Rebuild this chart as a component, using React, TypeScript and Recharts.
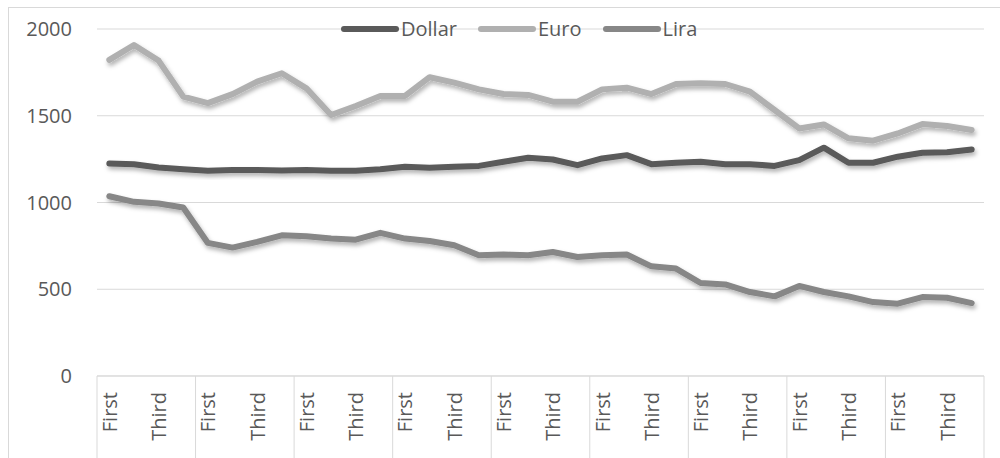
import React from 'react';
import { LineChart, Line, XAxis, YAxis, CartesianGrid, Legend } from 'recharts';

const quarters = [
  'First', 'Second', 'Third', 'Fourth', 'First', 'Second', 'Third', 'Fourth', 'First', 'Second', 'Third', 'Fourth',
  'First', 'Second', 'Third', 'Fourth', 'First', 'Second', 'Third', 'Fourth', 'First', 'Second', 'Third', 'Fourth',
  'First', 'Second', 'Third', 'Fourth', 'First', 'Second', 'Third', 'Fourth', 'First', 'Second', 'Third', 'Fourth',
];

const dollar = [
  1225, 1221, 1202, 1192, 1183, 1187, 1187, 1185, 1187, 1183, 1183, 1192,
  1206, 1200, 1206, 1211, 1235, 1258, 1248, 1215, 1254, 1273, 1221, 1229,
  1235, 1221, 1221, 1211, 1244, 1316, 1229, 1229, 1264, 1287, 1290, 1306,
];

const euro = [
  1822, 1908, 1818, 1610, 1573, 1625, 1697, 1745, 1658, 1504, 1556, 1614,
  1614, 1722, 1691, 1652, 1625, 1620, 1581, 1581, 1652, 1662, 1625, 1683,
  1687, 1683, 1639, 1533, 1427, 1450, 1370, 1356, 1398, 1452, 1441, 1418,
];

const lira = [
  1036, 1004, 994, 971, 767, 740, 773, 811, 805, 792, 786, 825,
  792, 778, 754, 696, 700, 696, 715, 686, 696, 700, 632, 619,
  536, 528, 484, 459, 519, 484, 459, 426, 417, 455, 451, 420,
];

const yTicks = [0, 500, 1000, 1500, 2000];

const data = quarters.map((q, i) => ({ id: i, q, Dollar: dollar[i], Euro: euro[i], Lira: lira[i] }));

const FONT = '"Open Sans", "Liberation Sans", sans-serif';
const TEXT = '#595959';
const GRID = '#d9d9d9';
const FS = 20;

const XTick = (props: any) => {
  const { x, y, payload } = props;
  const i: number = payload.index;
  const half: number = payload.offset || 0;
  const pos = i % 4;
  const showLabel = pos === 0 || pos === 2;
  return (
    <g>
      {pos === 0 && <line x1={x - half} x2={x - half} y1={y} y2={y + 82} stroke={GRID} strokeWidth={1} />}
      {i === quarters.length - 1 && <line x1={x + half} x2={x + half} y1={y} y2={y + 82} stroke={GRID} strokeWidth={1} />}
      {showLabel && (
        <text
          x={x}
          y={y + 16}
          transform={`rotate(-90, ${x}, ${y + 16})`}
          textAnchor="end"
          dominantBaseline="central"
          fill={TEXT}
          fontSize={FS}
          fontFamily={FONT}
        >
          {payload.value}
        </text>
      )}
    </g>
  );
};

const renderLegend = (props: any) => {
  const { payload } = props;
  return (
    <div style={{ display: 'flex', alignItems: 'center', fontFamily: FONT, fontSize: FS, color: TEXT, lineHeight: '26px' }}>
      {(payload || []).map((entry: any, k: number) => (
        <div key={k} style={{ display: 'flex', alignItems: 'center', marginRight: 21 }}>
          <svg width={58} height={10} style={{ display: 'block' }}>
            <line x1={3} y1={5} x2={55} y2={5} stroke={entry.color} strokeWidth={6} strokeLinecap="round" />
          </svg>
          <span style={{ marginLeft: 2 }}>{entry.value}</span>
        </div>
      ))}
    </div>
  );
};

export default function App() {
  return (
    <div style={{ position: 'absolute', left: 0, top: 0, width: 1000, height: 458, background: '#fff', overflow: 'hidden' }}>
      <div
        style={{
          position: 'absolute',
          left: 8,
          top: 7,
          right: 0,
          bottom: 0,
          borderLeft: `1px solid ${GRID}`,
          borderTop: `1px solid ${GRID}`,
        }}
      />
      <div style={{ position: 'absolute', left: 0, top: 0 }}>
        <LineChart width={1000} height={458} data={data} margin={{ top: 29, right: 16, bottom: 0, left: 0 }}>
          <defs>
            <filter id="lineShadow" x="-5%" y="-20%" width="110%" height="160%">
              <feDropShadow dx={1.5} dy={3} stdDeviation={2} floodColor="#000" floodOpacity={0.3} />
            </filter>
          </defs>
          <CartesianGrid vertical={false} stroke={GRID} strokeWidth={1} />
          <XAxis
            dataKey="id"
            scale="band"
            interval={0}
            tickLine={false}
            tickSize={0}
            tickMargin={0}
            axisLine={{ stroke: GRID, strokeWidth: 1 }}
            height={82}
            tick={(p: any) => <XTick {...p} payload={{ ...p.payload, value: quarters[p.payload.index] }} />}
          />
          <YAxis
            width={97}
            domain={[0, 2000]}
            ticks={yTicks}
            axisLine={false}
            tickLine={false}
            tickMargin={19}
            tick={{ fill: TEXT, fontSize: FS, fontFamily: FONT }}
          />
          <Legend
            verticalAlign="middle"
            align="center"
            content={renderLegend}
            wrapperStyle={{ top: 16, left: 341, width: 420 }}
          />
          <Line
            dataKey="Dollar"
            name="Dollar"
            stroke="#5a5a5a"
            strokeWidth={6}
            strokeLinecap="round"
            strokeLinejoin="round"
            dot={false}
            activeDot={false}
            filter="url(#lineShadow)"
            isAnimationActive={false}
          />
          <Line
            dataKey="Euro"
            name="Euro"
            stroke="#b0b0b0"
            strokeWidth={6}
            strokeLinecap="round"
            strokeLinejoin="round"
            dot={false}
            activeDot={false}
            filter="url(#lineShadow)"
            isAnimationActive={false}
          />
          <Line
            dataKey="Lira"
            name="Lira"
            stroke="#878787"
            strokeWidth={6}
            strokeLinecap="round"
            strokeLinejoin="round"
            dot={false}
            activeDot={false}
            filter="url(#lineShadow)"
            isAnimationActive={false}
          />
        </LineChart>
      </div>
    </div>
  );
}
